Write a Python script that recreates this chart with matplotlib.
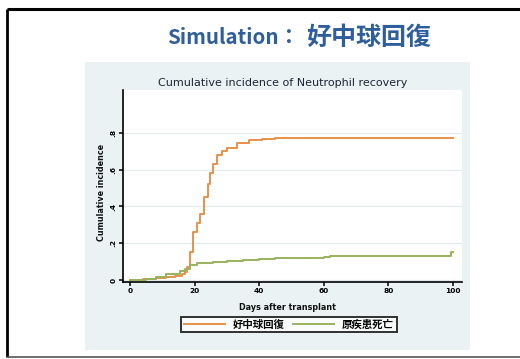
import matplotlib
matplotlib.use("Agg")
import matplotlib.pyplot as plt
from matplotlib.patches import Rectangle

plt.rcParams['font.family'] = ['Noto Sans CJK JP', 'DejaVu Sans']

# Cumulative incidence curves (step functions)
recovery_days = [0, 4, 8, 11, 14, 16, 17, 17.6, 18.6, 19.6, 20.6, 21.7, 23, 24.2, 24.8,
                 25.7, 27, 28.5, 30, 33, 37, 41, 45, 100]
recovery_ci = [0, 0.005, 0.01, 0.015, 0.02, 0.03, 0.045, 0.07, 0.15, 0.26, 0.31, 0.36, 0.45,
               0.52, 0.58, 0.63, 0.68, 0.70, 0.72, 0.745, 0.76, 0.77, 0.775, 0.775]

death_days = [0, 5, 8, 11, 13, 15.5, 17, 18.5, 20.7, 22, 25.7, 30, 35, 40, 45, 52, 60,
              62, 70, 99.5, 100]
death_ci = [0, 0.005, 0.015, 0.03, 0.035, 0.05, 0.06, 0.08, 0.09, 0.095, 0.10, 0.105,
            0.11, 0.115, 0.12, 0.12, 0.125, 0.13, 0.13, 0.155, 0.155]

series_labels = ["好中球回復", "原疾患死亡"]
series_colors = ["#E8904A", "#98B25C"]

x_ticks = [0, 20, 40, 60, 80, 100]
y_ticks = [0, 0.2, 0.4, 0.6, 0.8]
y_tick_labels = ["0", ".2", ".4", ".6", ".8"]

slide_title_head = "Simulation："
slide_title_tail = "好中球回復"
chart_title = "Cumulative incidence of Neutrophil recovery"
x_label = "Days after transplant"
y_label = "Cumulative incidence"

LATIN = ["DejaVu Sans"]
TITLE_BLUE = "#2F5E9C"

W, H = 520, 359
fig = plt.figure(figsize=(W / 100, H / 100), dpi=100)
fig.patch.set_facecolor("white")

# Slide background layer in pixel coordinates
bg = fig.add_axes([0, 0, 1, 1])
bg.set_xlim(0, W)
bg.set_ylim(H, 0)
bg.axis("off")
bg.plot([7, W + 5], [9, 9], color="black", lw=2.2, solid_capstyle="butt")
bg.plot([7, 7], [9, 357], color="black", lw=2.0, solid_capstyle="butt")
bg.plot([7, W + 5], [357, 357], color="#555555", lw=1.2, solid_capstyle="butt")
bg.add_patch(Rectangle((85, 62), 385, 288, facecolor="#EAF2F3", edgecolor="none"))
bg.text(167, 44, slide_title_head, color=TITLE_BLUE, fontsize=14.8, ha="left",
        va="baseline", fontweight="bold")
bg.text(306, 45, slide_title_tail, color=TITLE_BLUE, fontsize=18, ha="left",
        va="baseline", fontweight="bold")
bg.text(283, 83, chart_title, color="#1C2535", fontsize=8.0, ha="center", va="center",
        family=LATIN)
bg.text(287, 307, x_label, color="#111111", fontsize=5.8, ha="center", va="center",
        fontweight="bold", family=LATIN)
bg.text(102, 192, y_label, color="#111111", fontsize=5.8, ha="center", va="center",
        rotation=90, fontweight="bold", family=LATIN)

# Plot region
left, right, top, bottom = 123, 462, 90, 282
ax = fig.add_axes([left / W, 1 - bottom / H, (right - left) / W, (bottom - top) / H])
ax.set_facecolor("white")
ax.set_xlim(-2.17, 102.8)
ax.set_ylim(-0.011, 1.034)

for yt in y_ticks:
    ax.axhline(yt, color="#E2EAEC", lw=0.9, zorder=0)

ax.plot(recovery_days, recovery_ci, drawstyle="steps-post", color=series_colors[0],
        lw=1.4, label=series_labels[0], zorder=3)
ax.plot(death_days, death_ci, drawstyle="steps-post", color=series_colors[1],
        lw=1.4, label=series_labels[1], zorder=3)

for s in ["top", "right"]:
    ax.spines[s].set_visible(False)
for s in ["left", "bottom"]:
    ax.spines[s].set_linewidth(1.2)
    ax.spines[s].set_color("black")

ax.set_xticks(x_ticks)
ax.set_xticklabels([str(t) for t in x_ticks], fontsize=5.3, fontweight="bold", family=LATIN)
ax.set_yticks(y_ticks)
ax.set_yticklabels(y_tick_labels, fontsize=5.3, fontweight="bold", rotation=90,
                   va="center", family=LATIN)
ax.tick_params(axis="both", length=3, width=1.1, pad=1.5, colors="black")

leg = ax.legend(loc="upper center", bbox_to_anchor=(289 / W, 1 - 317 / H),
                bbox_transform=fig.transFigure, ncol=2, frameon=True, fancybox=False,
                fontsize=7.5, handlelength=3.9, columnspacing=0.8, borderpad=0.25,
                handletextpad=0.8, borderaxespad=0)
leg.get_frame().set_edgecolor("black")
leg.get_frame().set_linewidth(1.4)
for t in leg.get_texts():
    t.set_fontweight("bold")

fig.savefig("out.png", dpi=100, facecolor="white")
